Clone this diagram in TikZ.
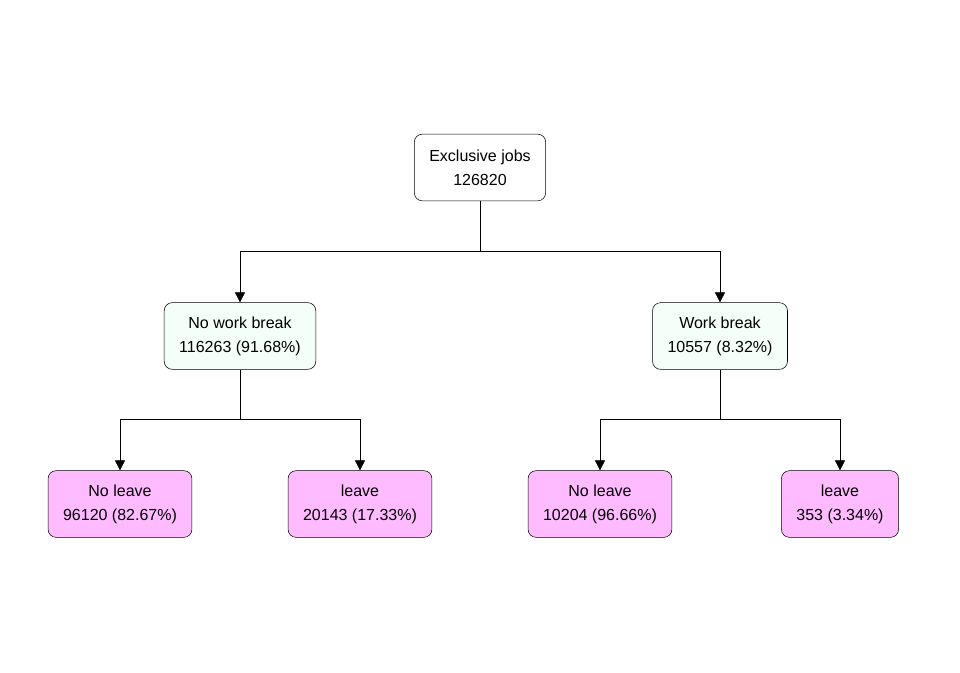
\documentclass[tikz,border=0pt]{standalone}
\usepackage{fontspec}
\setmainfont{Liberation Sans}
\usepackage{tikz}
\usetikzlibrary{arrows.meta}
\definecolor{mintbox}{HTML}{F3FFF8}
\definecolor{plumbox}{HTML}{FFBBFF}

\begin{document}
\begin{tikzpicture}[x=0.75pt,y=-0.75pt,->,>={Triangle[length=7.5pt,width=7.5pt]},
    font=\fontsize{12}{18}\selectfont]
    \tikzstyle{every node}=[draw=black,rounded corners=6pt,align=center,
        inner xsep=11.25pt,minimum height=50pt,text=black]
    \tikzstyle{split}=[fill=mintbox]
    \tikzstyle{leaf}=[fill=plumbox]
    \useasboundingbox (0,0) rectangle (960,672);
    \node[fill=white]  (1) at (480,167.5) {Exclusive jobs\\126820};
    \node[split]       (2) at (240,336)   {No work break\\116263 (91.68\%)};
    \node[split]       (3) at (720,336)   {Work break\\10557 (8.32\%)};
    \node[leaf]        (4) at (120,504)   {No leave\\96120 (82.67\%)};
    \node[leaf]        (5) at (360,504)   {leave\\20143 (17.33\%)};
    \node[leaf]        (6) at (600,504)   {No leave\\10204 (96.66\%)};
    \node[leaf]        (7) at (840,504)   {leave\\353 (3.34\%)};
    \draw (1.south) -- ++(0,50) -| (2.north);
    \draw (1.south) -- ++(0,50) -| (3.north);
    \draw (2.south) -- ++(0,50) -| (4.north);
    \draw (2.south) -- ++(0,50) -| (5.north);
    \draw (3.south) -- ++(0,50) -| (6.north);
    \draw (3.south) -- ++(0,50) -| (7.north);
\end{tikzpicture}
\end{document}
